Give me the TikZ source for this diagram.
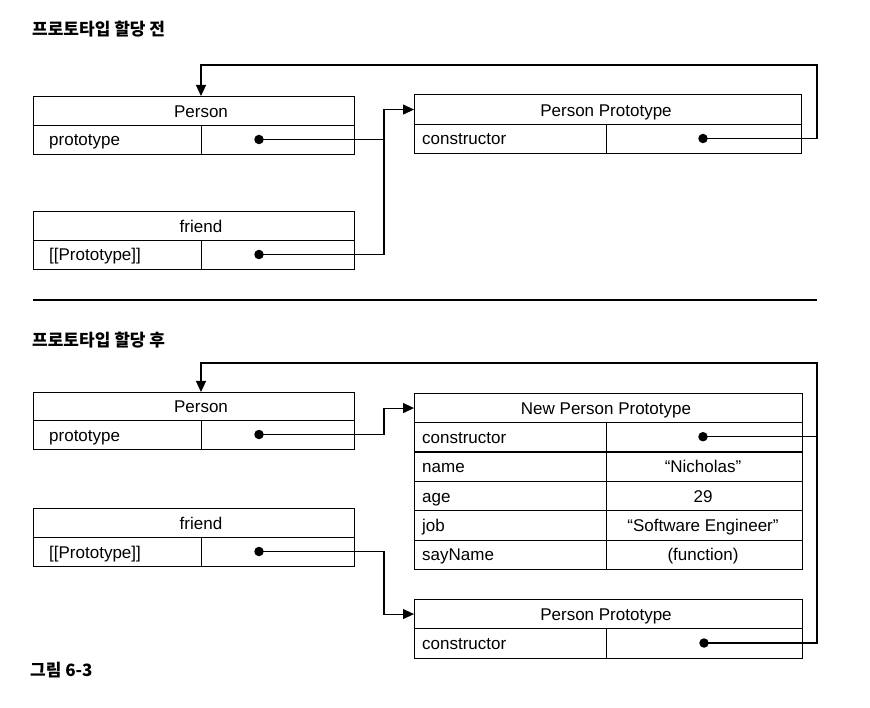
\documentclass[tikz,border=0pt]{standalone}
\usepackage{fontspec}
\setmainfont{Liberation Sans}
\newfontfamily\kr{Noto Sans CJK KR}
\usetikzlibrary{arrows.meta,calc}
\begin{document}
\begin{tikzpicture}[x=1pt,y=-1pt,
  cell/.style={draw, line width=1.1pt, inner sep=0pt, anchor=north west},
  txt/.style={font=\fontsize{17}{19}\selectfont, inner sep=0pt, anchor=base},
  key/.style={txt, anchor=base west},
  ttl/.style={font=\kr\bfseries\fontsize{17}{19}\selectfont, inner sep=0pt, anchor=west},
  dotn/.style={circle, fill=black, inner sep=0pt, minimum size=9.5pt},
  conn/.style={line width=1.1pt},
  arr/.style={conn, -{Triangle[length=11pt,width=10pt]}},
]
\useasboundingbox (0,0) rectangle (870,708);

% ---------- top section ----------
\node[ttl] (t1) at (32,29) {프로토타입 할당 전};

% Person (before)
\node[cell, minimum width=321pt, minimum height=29pt] (p1h) at (33,96) {};
\node[cell, minimum width=168pt, minimum height=29pt] (p1k) at (33,125) {};
\node[cell, minimum width=153pt, minimum height=29pt] (p1v) at (201,125) {};
\node[txt] (p1t) at (201,117.5) {Person};
\node[key] (p1kt) at (49,146) {prototype};
\node[dotn] (d1) at (259,139.5) {};

% friend (before)
\node[cell, minimum width=321pt, minimum height=29pt] (f1h) at (33,211) {};
\node[cell, minimum width=168pt, minimum height=29pt] (f1k) at (33,240) {};
\node[cell, minimum width=153pt, minimum height=29pt] (f1v) at (201,240) {};
\node[txt] (f1t) at (201,232.5) {friend};
\node[key] (f1kt) at (49,261) {[[Prototype]]};
\node[dotn] (d2) at (259,254.5) {};

% Person Prototype (before)
\node[cell, minimum width=387pt, minimum height=30pt] (pp1h) at (414,94) {};
\node[cell, minimum width=192pt, minimum height=29pt] (pp1k) at (414,124) {};
\node[cell, minimum width=195pt, minimum height=29pt] (pp1v) at (606,124) {};
\node[txt] (pp1t) at (606,116.5) {Person Prototype};
\node[key] (pp1kt) at (422,145) {constructor};
\node[dotn] (d3) at (703,138.5) {};

% connectors (before)
\coordinate (j1) at ([xshift=-30pt]pp1h.west);
\draw[arr] (d1.center) -| (j1) -- (pp1h.west);
\draw[conn] (d2.center) -| (j1);
\coordinate (r1) at (817,65);
\coordinate (p1in) at (p1t |- p1h.north);
\draw[arr] (d3.center) -| (r1) -| (p1in);

% separator
\coordinate (sepL) at (33,300);
\coordinate (sepR) at (817,300);
\draw[line width=2pt] (sepL) -- (sepR);

% ---------- bottom section ----------
\node[ttl] (t2) at (32,340) {프로토타입 할당 후};

% Person (after)
\node[cell, minimum width=321pt, minimum height=28pt] (p2h) at (33,392) {};
\node[cell, minimum width=168pt, minimum height=29pt] (p2k) at (33,420) {};
\node[cell, minimum width=153pt, minimum height=29pt] (p2v) at (201,420) {};
\node[txt] (p2t) at (201,413) {Person};
\node[key] (p2kt) at (49,441) {prototype};
\node[dotn] (d4) at (259,434.5) {};

% friend (after)
\node[cell, minimum width=321pt, minimum height=29pt] (f2h) at (33,508) {};
\node[cell, minimum width=168pt, minimum height=29pt] (f2k) at (33,537) {};
\node[cell, minimum width=153pt, minimum height=29pt] (f2v) at (201,537) {};
\node[txt] (f2t) at (201,529.5) {friend};
\node[key] (f2kt) at (49,558) {[[Prototype]]};
\node[dotn] (d5) at (259,551.5) {};

% New Person Prototype
\node[cell, minimum width=388pt, minimum height=29pt] (npph) at (414,393) {};
\node[txt] (nppt) at (606,414.5) {New Person Prototype};
\node[cell, minimum width=192pt, minimum height=29.4pt] (nk1) at (414,422) {};
\node[cell, minimum width=196pt, minimum height=29.4pt] (nv1) at (606,422) {};
\node[cell, minimum width=192pt, minimum height=29.4pt] (nk2) at (414,451.4) {};
\node[cell, minimum width=196pt, minimum height=29.4pt] (nv2) at (606,451.4) {};
\node[cell, minimum width=192pt, minimum height=29.4pt] (nk3) at (414,480.8) {};
\node[cell, minimum width=196pt, minimum height=29.4pt] (nv3) at (606,480.8) {};
\node[cell, minimum width=192pt, minimum height=29.4pt] (nk4) at (414,510.2) {};
\node[cell, minimum width=196pt, minimum height=29.4pt] (nv4) at (606,510.2) {};
\node[cell, minimum width=192pt, minimum height=29.4pt] (nk5) at (414,539.6) {};
\node[cell, minimum width=196pt, minimum height=29.4pt] (nv5) at (606,539.6) {};
\node[key] (nk1t) at (422,443.2) {constructor};
\node[key] (nk2t) at (422,472.6) {name};
\node[key] (nk3t) at (422,502) {age};
\node[key] (nk4t) at (422,531.4) {job};
\node[key] (nk5t) at (422,560.8) {sayName};
\node[dotn] (d6) at (703,436.7) {};
\node[txt] (nv2t) at (703,472.6) {“Nicholas”};
\node[txt] (nv3t) at (703,502) {29};
\node[txt] (nv4t) at (703,531.4) {“Software Engineer”};
\node[txt] (nv5t) at (703,560.8) {(function)};

% Person Prototype (after)
\node[cell, minimum width=388pt, minimum height=29pt] (pp2h) at (414,599) {};
\node[cell, minimum width=192pt, minimum height=30pt] (pp2k) at (414,628) {};
\node[cell, minimum width=196pt, minimum height=30pt] (pp2v) at (606,628) {};
\node[txt] (pp2t) at (606,620.5) {Person Prototype};
\node[key] (pp2kt) at (422,649.5) {constructor};
\node[dotn] (d7) at (704,643) {};

% connectors (after)
\coordinate (j2) at ([xshift=-30pt]npph.west);
\draw[arr] (d4.center) -| (j2) -- (npph.west);
\coordinate (j3) at ([xshift=-30pt]pp2h.west);
\draw[arr] (d5.center) -| (j3) -- (pp2h.west);
\coordinate (r2) at (817,363);
\coordinate (p2in) at (p2t |- p2h.north);
\draw[arr] (d7.center) -| (r2) -| (p2in);
\draw[conn] (d6.center) -- (d6 -| r2);

% caption
\node[ttl] (cap) at (30,670) {그림 6-3};
\end{tikzpicture}
\end{document}
